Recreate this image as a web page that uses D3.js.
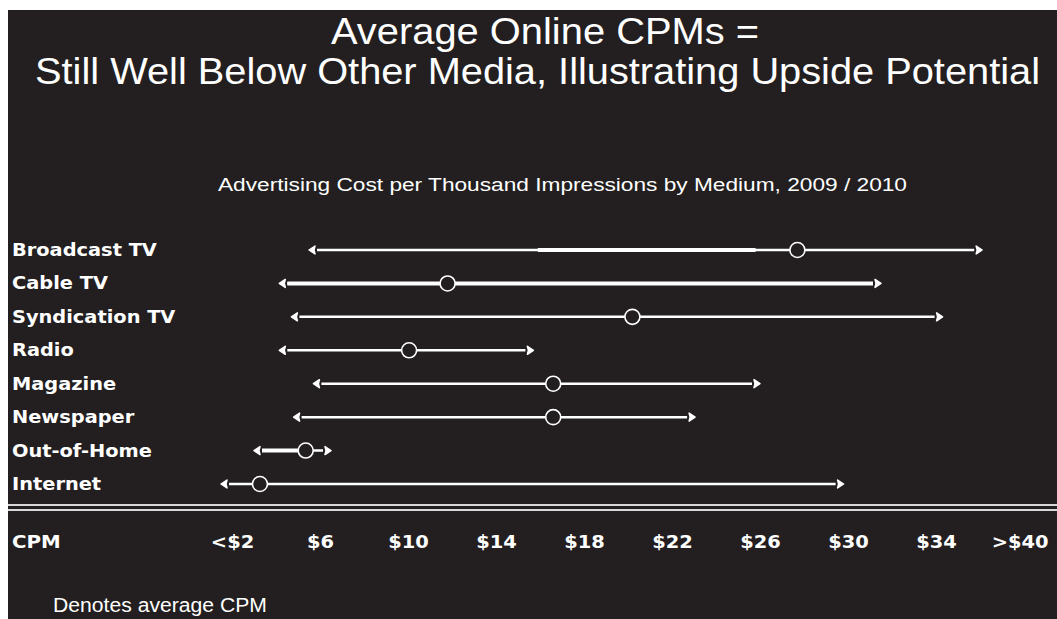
<!DOCTYPE html>
<html>
<head>
<meta charset="utf-8">
<script src="https://cdn.jsdelivr.net/npm/d3@7"></script>
<style>
  body { margin: 0; background: #fff; }
  svg { display: block; }
</style>
</head>
<body>
<svg class="chart" width="1057" height="619"></svg>
<script>
// data
const media = ["Broadcast TV", "Cable TV", "Syndication TV", "Radio", "Magazine", "Newspaper", "Out-of-Home", "Internet"];
const lowCPM = [5.5, 4.15, 4.7, 4.15, 5.7, 4.8, 3.0, 1.5];
const highCPM = [36.1, 31.5, 34.3, 15.7, 26.0, 23.05, 6.5, 29.8];
const avgCPM = [27.7, 11.8, 20.2, 10.05, 16.6, 16.6, 5.35, 3.27];
// part of the range drawn heavier in the source
const heavyLow = [15.9, 4.15, null, null, null, null, 3.0, null];
const heavyHigh = [25.8, 31.5, null, null, null, null, 5.35, null];
const tickValues = [2, 6, 10, 14, 18, 22, 26, 30, 34, 37.8];
const tickLabels = ["<$2", "$6", "$10", "$14", "$18", "$22", "$26", "$30", "$34", ">$40"];

const bg = "#231f20";
const svg = d3.select(".chart");

svg.append("rect")
  .attr("x", 8).attr("y", 10)
  .attr("width", 1057 - 8).attr("height", 619 - 10)
  .attr("fill", bg);

// titles (source type is a tall, narrow grotesque -> squeeze glyphs)
const titleFont = "'Liberation Sans', Arial, sans-serif";
function squeezed(txt, left, baseline, size, len) {
  return svg.append("text")
    .attr("x", left).attr("y", baseline)
    .attr("fill", "#fff")
    .style("font-family", titleFont)
    .style("font-size", size + "px")
    .attr("textLength", len)
    .attr("lengthAdjust", "spacingAndGlyphs")
    .text(txt);
}
squeezed("Average Online CPMs =", 545 - 214, 44, 37, 428);
squeezed("Still Well Below Other Media, Illustrating Upside Potential", 35, 84, 37, 1005);
squeezed("Advertising Cost per Thousand Impressions by Medium, 2009 / 2010", 218, 191, 17.5, 689);

// scales
const x = d3.scaleLinear().domain([0, 40]).range([188, 1068]);
const y = d3.scalePoint().domain(media).range([250, 484]);

const labelFont = "'DejaVu Sans', Verdana, sans-serif";

// row labels
svg.append("g")
  .selectAll("text")
  .data(media)
  .join("text")
  .attr("transform", d => `translate(12,${y(d) + 6}) scale(1.14,1)`)
  .attr("fill", "#fff")
  .style("font-family", labelFont)
  .style("font-weight", "bold")
  .style("font-size", "17px")
  .text(d => d);

const rows = media.map((m, i) => ({
  m, lo: lowCPM[i], hi: highCPM[i], avg: avgCPM[i], hlo: heavyLow[i], hhi: heavyHigh[i]
}));

const g = svg.append("g");

// range lines
g.selectAll(".range")
  .data(rows)
  .join("line")
  .attr("class", "range")
  .attr("x1", d => x(d.lo) + 8)
  .attr("x2", d => x(d.hi) - 8)
  .attr("y1", d => y(d.m))
  .attr("y2", d => y(d.m))
  .attr("stroke", "#fff")
  .attr("stroke-width", 2.5);

g.selectAll(".heavy")
  .data(rows.filter(d => d.hlo != null))
  .join("line")
  .attr("class", "heavy")
  .attr("x1", d => Math.max(x(d.hlo), x(d.lo) + 8))
  .attr("x2", d => Math.min(x(d.hhi), x(d.hi) - 8))
  .attr("y1", d => y(d.m))
  .attr("y2", d => y(d.m))
  .attr("stroke", "#fff")
  .attr("stroke-width", 4);

// arrow heads
const leftHead = "M0,0 L6,-4 L5,0 L6,4 Z";
const rightHead = "M0,0 L-6,-4 L-5,0 L-6,4 Z";
g.selectAll(".lhead")
  .data(rows)
  .join("path")
  .attr("class", "lhead")
  .attr("transform", d => `translate(${x(d.lo)},${y(d.m)})`)
  .attr("d", leftHead)
  .attr("fill", "#fff")
  .attr("stroke", "#fff")
  .attr("stroke-width", 1.5)
  .attr("stroke-linejoin", "round");

g.selectAll(".rhead")
  .data(rows)
  .join("path")
  .attr("class", "rhead")
  .attr("transform", d => `translate(${x(d.hi)},${y(d.m)})`)
  .attr("d", rightHead)
  .attr("fill", "#fff")
  .attr("stroke", "#fff")
  .attr("stroke-width", 1.5)
  .attr("stroke-linejoin", "round");

// averages
g.selectAll(".avg")
  .data(rows)
  .join("circle")
  .attr("class", "avg")
  .attr("cx", d => x(d.avg))
  .attr("cy", d => y(d.m))
  .attr("r", 7.5)
  .attr("fill", bg)
  .attr("stroke", "#fff")
  .attr("stroke-width", 1.6);

// double rule
svg.selectAll(".rule")
  .data([505, 510])
  .join("line")
  .attr("class", "rule")
  .attr("x1", 8).attr("x2", 1057)
  .attr("y1", d => d).attr("y2", d => d)
  .attr("stroke", "#d8d8d8")
  .attr("stroke-width", 2);

// axis
const xAxis = d3.axisBottom(x)
  .tickValues(tickValues)
  .tickFormat((d, i) => tickLabels[i])
  .tickSize(0)
  .tickPadding(0);

const axisG = svg.append("g")
  .attr("transform", "translate(0,548)")
  .call(xAxis);
axisG.select(".domain").remove();
axisG.selectAll("text")
  .attr("dy", 0)
  .attr("transform", "scale(1.08,1)")
  .attr("fill", "#fff")
  .style("font-family", labelFont)
  .style("font-weight", "bold")
  .style("font-size", "18px");

svg.append("text")
  .attr("transform", "translate(12,548) scale(1.1,1)")
  .attr("fill", "#fff")
  .style("font-family", labelFont)
  .style("font-weight", "bold")
  .style("font-size", "18px")
  .text("CPM");

squeezed("Denotes average CPM", 53, 612, 20, 214);
</script>
</body>
</html>
